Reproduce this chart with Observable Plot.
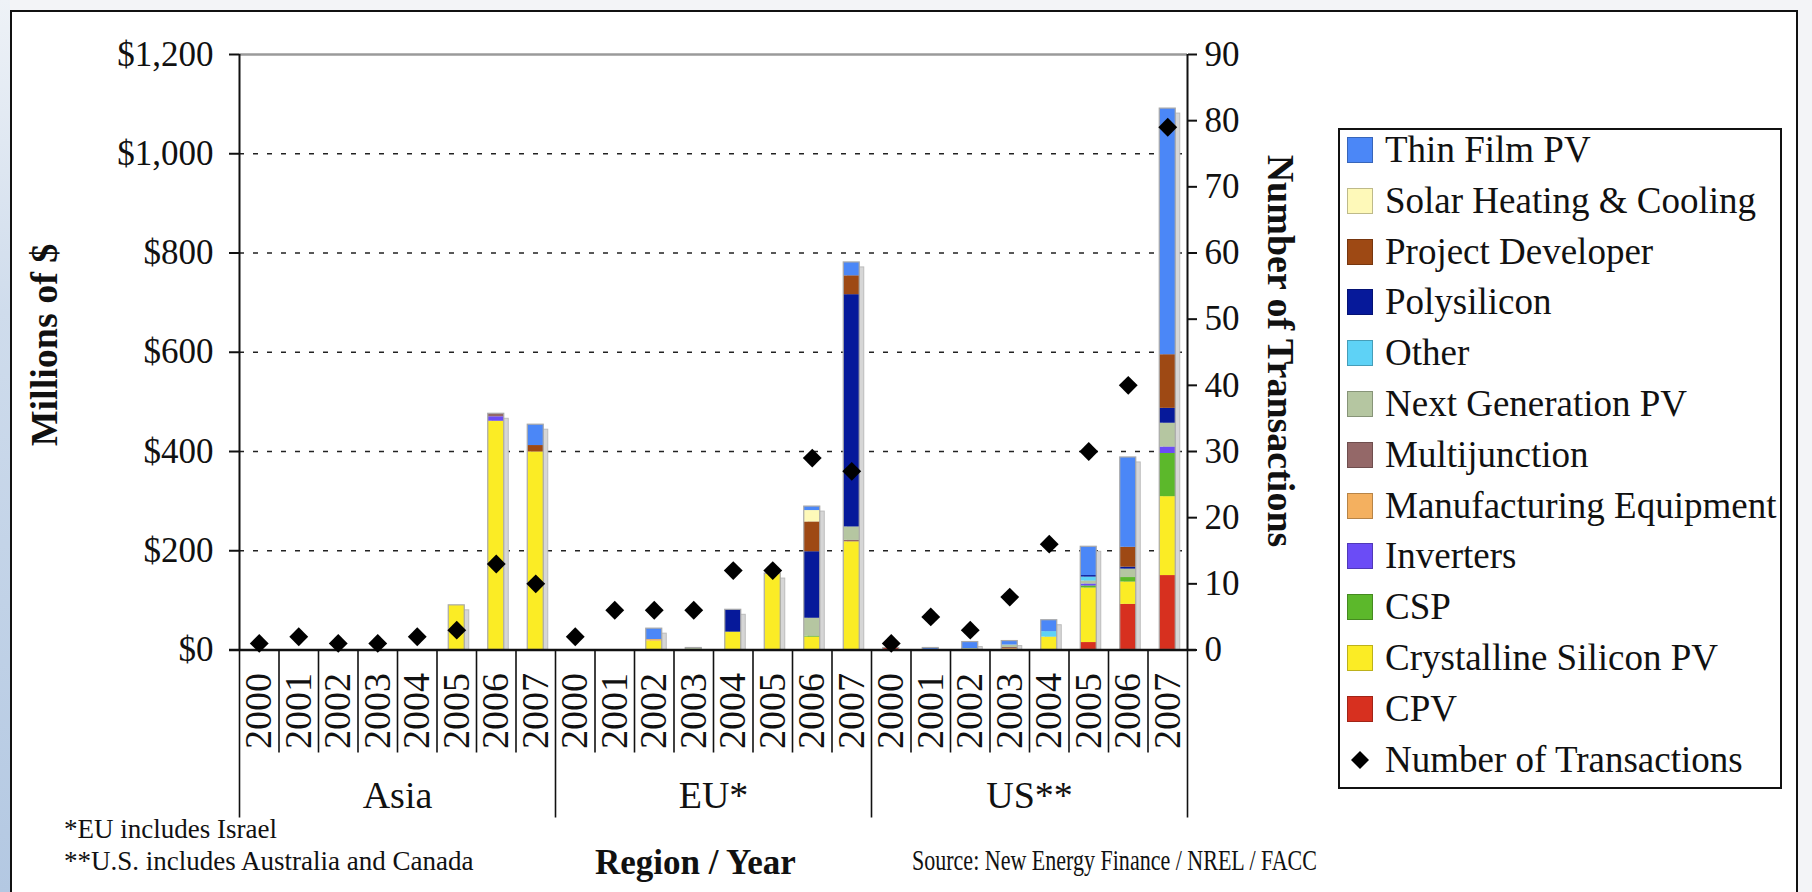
<!DOCTYPE html>
<html>
<head>
<meta charset="utf-8">
<script src="https://cdn.jsdelivr.net/npm/d3@7"></script>
<script src="https://cdn.jsdelivr.net/npm/@observablehq/plot@0.6"></script>
<style>
  html, body { margin: 0; padding: 0; width: 1812px; height: 892px; overflow: hidden; }
  body { position: relative; background: #f3f4f7; font-family: "Liberation Serif", "DejaVu Serif", serif; color: #111; }
  #leftstrip { position: absolute; left: 0; top: 0; width: 10px; height: 892px;
    background: linear-gradient(to bottom, #eef2f7 0%, #cfdcec 35%, #b3c8e2 100%); }
  #frame { position: absolute; left: 10px; top: 10px; width: 1788px; height: 900px;
    border: 2px solid #111; background: #fff; box-sizing: border-box; }
  #chart { position: absolute; left: 0; top: 0; }
  .lbl { position: absolute; white-space: nowrap; line-height: 1; font-family: "Liberation Serif", "DejaVu Serif", serif; }
  .rot { transform-origin: 50% 50%; }
  #legend { position: absolute; left: 1338px; top: 128px; width: 444px; height: 661px;
    border: 2px solid #111; background: #fff; box-sizing: border-box; }
  .lrow { position: absolute; left: 0; height: 50px; width: 440px; }
  .sw { position: absolute; left: 7px; top: 12px; width: 26px; height: 26px; box-sizing: border-box; border: 1px solid rgba(0,0,0,0.25); }
  .lt { position: absolute; left: 45px; top: 0; line-height: 50px; font-size: 37px; white-space: nowrap;
    font-family: "Liberation Serif", "DejaVu Serif", serif; color: #111; }
</style>
</head>
<body>
<div id="leftstrip"></div>
<div id="frame"></div>
<div id="chart"></div>
<div id="legend"></div>
<script>
// ---------------- data ----------------
const regions = ["Asia", "EU*", "US**"];
const years = ["2000", "2001", "2002", "2003", "2004", "2005", "2006", "2007"];

// stacking order, bottom to top
const seriesNames = [
  "CPV", "Crystalline Silicon PV", "CSP", "Inverters", "Manufacturing Equipment",
  "Multijunction", "Next Generation PV", "Other", "Polysilicon", "Project Developer",
  "Solar Heating & Cooling", "Thin Film PV"
];
const seriesColors = [
  "#d7301f", "#fbec25", "#5cb82b", "#6b4cf6", "#f4b05f",
  "#946868", "#b5c6a1", "#5ed2f6", "#06199a", "#9e4914",
  "#fef9b9", "#4b87f7"
];

// Millions of $ — Asia 2000-2007, EU 2000-2007, US 2000-2007
const cpv            = [0,0,0,0,0,0,0,0,     0,0,0,0,0,0,0,0,        4,0,0,0,0,15,92,150];
const crystalline    = [0,0,0,0,0,90,461,399, 0,0,18,0,36,152,26,218, 0,0,0,0,26,110,45,159];
const csp            = [0,0,0,0,0,0,0,0,     0,0,0,0,0,0,2,0,        0,0,0,0,0,4,9,87];
const inverters      = [0,0,0,0,0,0,9,0,     0,0,0,0,0,0,0,0,        0,0,0,0,0,4,0,13];
const manufacturing  = [0,0,0,0,0,0,0,0,     0,0,3,0,0,2,0,0,        0,0,0,3,0,0,0,0];
const multijunction  = [0,0,0,0,0,0,6,0,     0,0,0,0,0,0,0,3,        0,0,0,2,0,0,0,0];
const nextGen        = [0,0,0,0,0,0,0,0,     0,0,0,4,0,0,36,27,      0,0,3,5,0,6,17,48];
const other          = [0,0,0,0,0,0,0,0,     0,0,0,0,0,0,0,0,        0,0,0,0,11,8,0,0];
const polysilicon    = [0,0,0,0,0,0,0,0,     0,0,0,0,45,0,134,468,   0,0,0,0,0,3,4,30];
const projectDev     = [0,0,0,0,0,0,0,13,    0,0,0,0,0,0,60,38,      0,0,0,0,0,0,40,108];
const solarHeating   = [0,0,0,0,0,0,0,0,     0,0,0,0,0,0,23,0,       0,0,0,0,0,0,0,0];
const thinFilm       = [0,0,0,0,0,0,0,42,    0,0,22,0,0,0,8,27,      0,4,13,8,23,58,181,496];

// Number of transactions (right axis)
const transactions   = [1,2,1,1,2,3,13,10,   2,6,6,6,12,12,29,27,    1,5,3,8,16,30,40,79];

const leftTicks = [0, 200, 400, 600, 800, 1000, 1200];
const rightTicks = [0, 10, 20, 30, 40, 50, 60, 70, 80, 90];

// ---------------- build tables ----------------
const seriesValues = [cpv, crystalline, csp, inverters, manufacturing, multijunction,
  nextGen, other, polysilicon, projectDev, solarHeating, thinFilm];
const Y_MAX = 1200, T_MAX = 90;
const cats = regions.flatMap((r, ri) => years.map((y, yi) => ({region: r, year: y, i: ri * years.length + yi})));
const segs = [], totals = [];
cats.forEach(c => {
  let acc = 0;
  seriesValues.forEach((vals, s) => {
    const v = vals[c.i];
    if (v > 0) { segs.push({i: c.i, series: seriesNames[s], y1: acc, y2: acc + v}); acc += v; }
  });
  if (acc > 0) totals.push({i: c.i, total: acc});
});
const txData = cats.map(c => ({i: c.i, n: transactions[c.i]}));
const nCats = cats.length;
const regionBounds = d3.range(0, nCats + 1, years.length);
const yearBounds = d3.range(0, nCats + 1).filter(b => b % years.length !== 0);

// ---------------- plot ----------------
const W = 1812, H = 892;
const axisL = 239, axisR = 1187, top0 = 54, base0 = 649.5;
const slot = (axisR - axisL) / nCats;
const inset = (slot - 16) / 2;
const FONT = "Liberation Serif, DejaVu Serif, serif";

const chart = Plot.plot({
  width: W, height: H,
  marginLeft: axisL, marginRight: W - axisR, marginTop: top0, marginBottom: H - base0,
  x: {type: "linear", domain: [0, nCats], axis: null},
  y: {domain: [0, Y_MAX], axis: null},
  color: {domain: seriesNames, range: seriesColors},
  style: {background: "transparent", fontFamily: FONT, color: "#111", overflow: "visible"},
  marks: [
    Plot.ruleY(leftTicks.filter(v => v > 0 && v < Y_MAX), {stroke: "#222", strokeWidth: 1.6, strokeDasharray: "5,9"}),
    Plot.ruleY([Y_MAX], {stroke: "#9a9a9a", strokeWidth: 2.5}),
    // shadow
    Plot.rectY(totals, {x1: d => d.i, x2: d => d.i + 1, y1: () => 0, y2: "total",
      insetLeft: inset, insetRight: inset, insetBottom: 5, dx: 4.5, dy: 5,
      fill: "#d6d6d6", stroke: "#bcbcbc", strokeWidth: 1}),
    // stacked segments
    Plot.rectY(segs, {x1: d => d.i, x2: d => d.i + 1, y1: "y1", y2: "y2", fill: "series",
      insetLeft: inset, insetRight: inset}),
    // outline
    Plot.rectY(totals, {x1: d => d.i, x2: d => d.i + 1, y1: () => 0, y2: "total",
      insetLeft: inset, insetRight: inset, fill: "none", stroke: "#a9a9a9", strokeWidth: 1.2}),
    // axis lines
    Plot.ruleX([0, nCats], {stroke: "#111", strokeWidth: 2}),
    Plot.ruleY([0], {stroke: "#111", strokeWidth: 2.5, insetLeft: -10, insetRight: -9}),
    // category separators
    Plot.ruleX(yearBounds, {y1: () => 0, y2: () => 0, insetBottom: -103, stroke: "#111", strokeWidth: 1.6}),
    Plot.ruleX(regionBounds, {y1: () => 0, y2: () => 0, insetBottom: -168, stroke: "#111", strokeWidth: 1.6}),
    // year labels
    Plot.text(cats, {x: d => d.i + 0.5, y: () => 0, text: "year", rotate: -90, textAnchor: "end",
      dy: 23, fontSize: 38, fill: "#111"}),
    // region labels
    Plot.text(regions, {x: (d, k) => k * years.length + years.length / 2, y: () => 0, text: d => d,
      dy: 146, fontSize: 38, fill: "#111"}),
    // transactions
    Plot.dot(txData, {x: d => d.i + 0.5, y: d => d.n * Y_MAX / T_MAX, symbol: "diamond2", r: 8.5,
      fill: "#000", stroke: "none"}),
    // left axis
    Plot.axisY(leftTicks, {anchor: "left", tickSize: 10, tickPadding: 16, fontSize: 35,
      tickFormat: d => "$" + d3.format(",")(d), label: null, stroke: "#111", strokeWidth: 2}),
    // right axis
    Plot.axisY(rightTicks.map(v => v * Y_MAX / T_MAX), {anchor: "right", tickSize: 9, tickPadding: 8,
      fontSize: 35, tickFormat: d => String(Math.round(d * T_MAX / Y_MAX)), label: null,
      stroke: "#111", strokeWidth: 2})
  ]
});
document.getElementById("chart").appendChild(chart);

// ---------------- titles & notes ----------------
function addLabel(text, opts) {
  const el = document.createElement("div");
  el.className = "lbl" + (opts.rotate ? " rot" : "");
  el.textContent = text;
  el.style.fontSize = opts.size + "px";
  if (opts.bold) el.style.fontWeight = "bold";
  el.style.left = opts.x + "px";
  el.style.top = opts.y + "px";
  let tr = "";
  if (opts.center) tr += "translate(-50%,-50%) ";
  if (opts.rotate) tr += "rotate(" + opts.rotate + "deg) ";
  el.style.transform = tr;
  document.body.appendChild(el);
  if (opts.fitWidth) {
    const w = el.getBoundingClientRect().width;
    el.style.transformOrigin = "0 50%";
    el.style.transform = tr + "scaleX(" + (opts.fitWidth / w) + ")";
  }
  return el;
}
addLabel("Millions of $", {x: 44, y: 345, size: 38, bold: true, center: true, rotate: -90});
addLabel("Number of Transactions", {x: 1281, y: 351, size: 38, bold: true, center: true, rotate: 90});
addLabel("*EU includes Israel", {x: 64, y: 816, size: 27});
addLabel("**U.S. includes Australia and Canada", {x: 64, y: 848, size: 27});
addLabel("Region / Year", {x: 595, y: 845, size: 35, bold: true});
addLabel("Source: New Energy Finance / NREL / FACC", {x: 912, y: 846, size: 29, fitWidth: 405});

// ---------------- legend ----------------
const legend = document.getElementById("legend");
const legendNames = seriesNames.slice().reverse();
const legendColors = seriesColors.slice().reverse();
legendNames.concat(["Number of Transactions"]).forEach((name, k) => {
  const row = document.createElement("div");
  row.className = "lrow";
  row.style.top = (20 + k * 50.8 - 25) + "px";
  if (k < legendNames.length) {
    const sw = document.createElement("div");
    sw.className = "sw";
    sw.style.background = legendColors[k];
    row.appendChild(sw);
  } else {
    const ns = "http://www.w3.org/2000/svg";
    const svg = document.createElementNS(ns, "svg");
    svg.setAttribute("width", 30); svg.setAttribute("height", 50);
    svg.style.position = "absolute"; svg.style.left = "5px"; svg.style.top = "0";
    const p = document.createElementNS(ns, "path");
    p.setAttribute("d", "M15,16L24,25L15,34L6,25Z");
    p.setAttribute("fill", "#000");
    svg.appendChild(p);
    row.appendChild(svg);
  }
  const t = document.createElement("div");
  t.className = "lt";
  t.textContent = name;
  row.appendChild(t);
  legend.appendChild(row);
});
</script>
</body>
</html>
